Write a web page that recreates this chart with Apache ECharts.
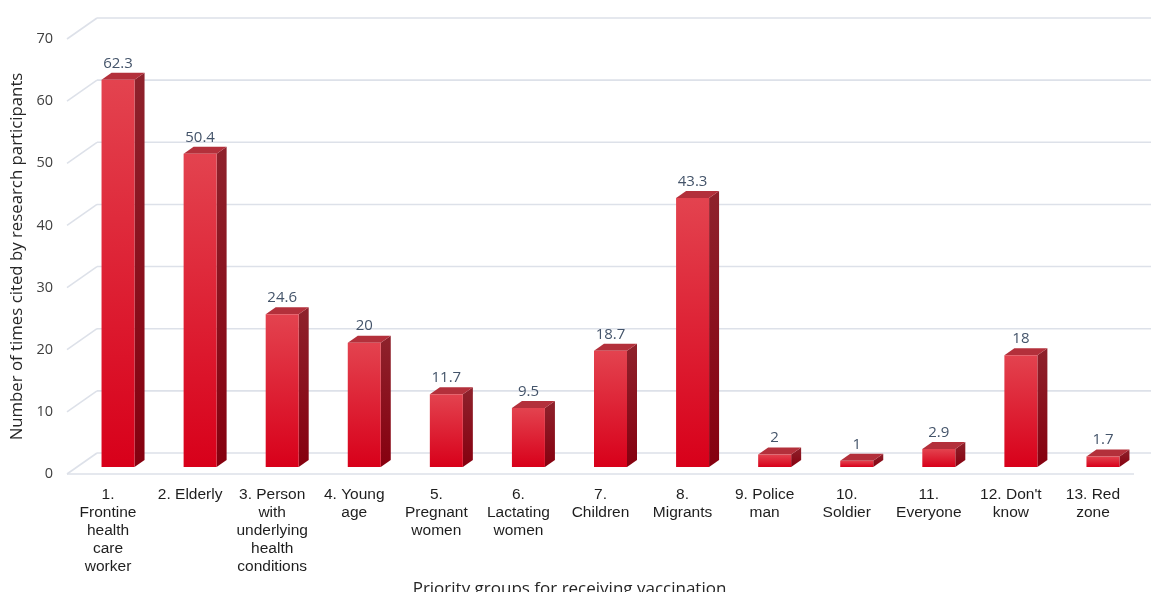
<!DOCTYPE html>
<html>
<head>
    <meta charset="UTF-8">
    <title>Priority groups for receiving vaccination</title>
    <script type="text/javascript" src="https://cdn.jsdelivr.net/npm/echarts@6/dist/echarts.min.js"></script>
    <style>
        html, body { margin: 0; padding: 0; background: #fff; }
    </style>
</head>
<body>
    <div id="main" style="width: 1151px;height:592px;"></div>
    <script type="text/javascript">
        // category labels (line breaks as in the original chart)
        var categories = [
            "1.\nFrontine\nhealth\ncare\nworker",
            "2. Elderly",
            "3. Person\nwith\nunderlying\nhealth\nconditions",
            "4. Young\nage",
            "5.\nPregnant\nwomen",
            "6.\nLactating\nwomen",
            "7.\nChildren",
            "8.\nMigrants",
            "9. Police\nman",
            "10.\nSoldier",
            "11.\nEveryone",
            "12. Don't\nknow",
            "13. Red\nzone"
        ];
        var values = [62.3, 50.4, 24.6, 20, 11.7, 9.5, 18.7, 43.3, 2, 1, 2.9, 18, 1.7];
        var yTicks = [0, 10, 20, 30, 40, 50, 60, 70];

        // pseudo 3d depth (pixels)
        var WALL_DX = 30, WALL_DY = -21;
        var BAR_DX = 10, BAR_DY = -7;
        var BAR_W = 33;

        var myChart = echarts.init(document.getElementById('main'));

        function renderWall(params, api) {
            var cs = params.coordSys;
            var v = api.value(0);
            var y = api.coord([0, v])[1];
            var x0 = cs.x;
            var lineStyle = { stroke: '#dde1e9', lineWidth: 1.6 };
            var children = [
                { type: 'line', shape: { x1: x0, y1: y, x2: x0 + WALL_DX, y2: y + WALL_DY }, style: lineStyle },
                { type: 'line', shape: { x1: x0 + WALL_DX, y1: y + WALL_DY, x2: 1151, y2: y + WALL_DY }, style: lineStyle }
            ];
            if (v === 0) {
                children.push({ type: 'line', shape: { x1: x0, y1: y, x2: cs.x + cs.width, y2: y }, style: lineStyle });
            }
            return { type: 'group', children: children };
        }

        function renderBar(params, api) {
            var i = api.value(0);
            var v = api.value(1);
            var base = api.coord([i, 0]);
            var top = api.coord([i, v]);
            var xl = base[0] + BAR_DX - BAR_W / 2;
            var xr = xl + BAR_W;
            var yb = base[1] + BAR_DY;
            var yt = top[1] + BAR_DY;
            var frontFill = new echarts.graphic.LinearGradient(0, 0, 0, 1, [
                { offset: 0, color: '#e3434f' },
                { offset: 1, color: '#d8001a' }
            ]);
            var sideFill = new echarts.graphic.LinearGradient(0, 0, 0, 1, [
                { offset: 0, color: '#8e222c' },
                { offset: 1, color: '#86000f' }
            ]);
            return {
                type: 'group',
                children: [
                    {
                        type: 'polygon',
                        shape: { points: [[xr, yt], [xr + BAR_DX, yt + BAR_DY], [xr + BAR_DX, yb + BAR_DY], [xr, yb]] },
                        style: { fill: sideFill }
                    },
                    {
                        type: 'polygon',
                        shape: { points: [[xl, yt], [xl + BAR_DX, yt + BAR_DY], [xr + BAR_DX, yt + BAR_DY], [xr, yt]] },
                        style: { fill: '#b3303b' }
                    },
                    {
                        type: 'rect',
                        shape: { x: xl, y: yt, width: BAR_W, height: yb - yt },
                        style: { fill: frontFill }
                    },
                    {
                        type: 'text',
                        x: xl + BAR_W / 2,
                        y: yt + BAR_DY - 2,
                        style: {
                            text: String(v),
                            fill: '#44546a',
                            fontSize: 15,
                            fontFamily: 'Open Sans',
                            align: 'center',
                            verticalAlign: 'bottom'
                        }
                    }
                ]
            };
        }

        var option = {
            animation: false,
            grid: {
                left: 67,
                right: 17,
                top: 39,
                bottom: 118,
                outerBoundsMode: 'none',
                containLabel: false
            },
            xAxis: {
                type: 'category',
                data: categories,
                name: 'Priority groups for receiving vaccination',
                nameLocation: 'middle',
                nameGap: 102,
                nameTextStyle: { fontFamily: 'Open Sans', fontSize: 17, color: '#262626', padding: [0, 62, 0, 0] },
                axisLine: { show: false },
                axisTick: { show: false },
                axisLabel: {
                    interval: 0,
                    margin: 12,
                    fontFamily: 'Liberation Sans',
                    fontSize: 15.5,
                    lineHeight: 18,
                    color: '#1e1e1e'
                }
            },
            yAxis: {
                type: 'value',
                min: 0,
                max: 70,
                interval: 10,
                name: 'Number of times cited by research participants',
                nameLocation: 'middle',
                nameGap: 41,
                nameTextStyle: { fontFamily: 'Open Sans', fontSize: 16.8, color: '#262626' },
                axisLine: { show: false },
                axisTick: { show: false },
                splitLine: { show: false },
                axisLabel: {
                    margin: 14,
                    fontFamily: 'Open Sans',
                    fontSize: 14.5,
                    color: '#404040'
                }
            },
            series: [
                {
                    name: 'walls',
                    type: 'custom',
                    renderItem: renderWall,
                    data: yTicks.map(function (t) { return [t]; }),
                    encode: { y: 0 },
                    silent: true,
                    z: 1
                },
                {
                    name: 'bars',
                    type: 'custom',
                    renderItem: renderBar,
                    data: values.map(function (v, i) { return [i, v]; }),
                    encode: { x: 0, y: 1 },
                    clip: false,
                    z: 2
                }
            ]
        };
        myChart.setOption(option);
    </script>
</body>
</html>
